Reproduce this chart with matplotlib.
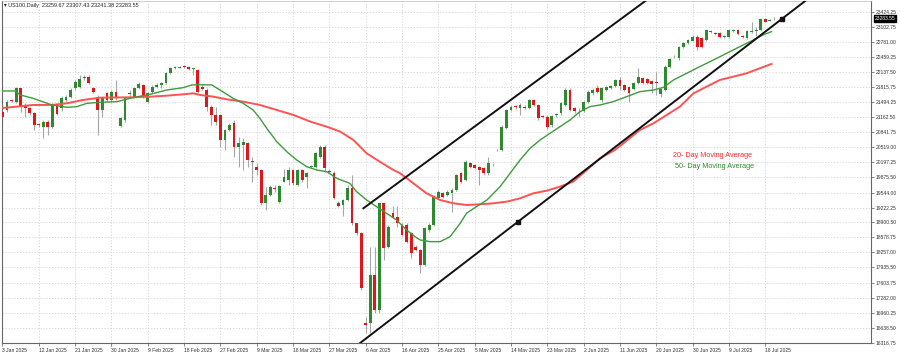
import numpy as np
import matplotlib.pyplot as plt

# ---------------------------------
# Daily candles
# ---------------------------------
opens = [
    21282, 21318, 21540, 21500, 21784, 21420, 21354, 21246, 21010, 20960,
    21068, 20960, 21426, 21354, 21533, 21605, 21784, 21820, 22000, 22034,
    21800, 21605, 21318, 21676, 21533, 21712, 20980, 21103, 21680, 21605,
    21784, 21855, 21497, 21712, 21820, 21855, 21891, 22106, 22220, 22230,
    22250, 22249, 22200, 22177, 21820, 21748, 21390, 21211, 21211, 20674,
    20888, 21032, 20530, 20566, 20602, 20210, 20100, 20030, 19313, 19492,
    19640, 19350, 19780, 19814, 20030, 19706, 20030, 19885, 20100, 20100,
    20316, 20530, 20000, 19957, 19327, 19277, 19385, 19635, 18883, 18668,
    16740, 16734, 17773, 17020, 19313, 18380, 19098, 19026, 18848, 18847,
    18668, 18382, 18310, 17987, 18740, 18847, 19420, 19527, 19492, 19527,
    19600, 19957, 19814, 20172, 20136, 20100, 20065, 19957, 20130, 20450,
    20459, 20924, 21318, 21404, 21354, 21376, 21354, 21533, 21426, 21175,
    21175, 20990, 21210, 21247, 21426, 21748, 21354, 21330, 21304, 21497,
    21676, 21784, 21533, 21748, 21784, 21834, 21963, 21856, 21805, 21762,
    21906, 21999, 21977, 21949, 21906, 21662, 21748, 22250, 22450, 22429,
    22679, 22751, 22808, 22894, 22858, 22822, 23002, 22966, 22966, 22894,
    22894, 23023, 23037, 22894, 22858, 23002, 23023, 23037, 23267, 23238,
    23267]
highs = [
    21318, 21533, 21560, 21820, 21800, 21460, 21390, 21282, 21040, 21100,
    21100, 21460, 21460, 21620, 21640, 21780, 21960, 22070, 22060, 22060,
    21820, 21640, 21600, 21700, 21740, 21963, 21160, 21600, 21740, 21820,
    21927, 21880, 21700, 21850, 21890, 21927, 22130, 22250, 22260, 22270,
    22280, 22270, 22230, 22200, 21850, 21780, 21420, 21390, 21240, 20920,
    21030, 21103, 20745, 20710, 20640, 20315, 20170, 20060, 19670, 19700,
    19700, 19710, 20060, 20100, 20060, 20060, 20060, 19990, 20130, 20420,
    20560, 20560, 20060, 20000, 19360, 19410, 19706, 19920, 18900, 18700,
    16880, 18380, 18380, 19330, 19330, 18840, 19255, 19255, 18880, 18880,
    18700, 18420, 18340, 18800, 18900, 19490, 19600, 19560, 19600, 19640,
    19950, 19990, 20240, 20200, 20160, 20120, 20090, 20316, 20170, 20480,
    20990, 21340, 21420, 21430, 21460, 21420, 21560, 21560, 21450, 21200,
    21200, 21220, 21250, 21490, 21780, 21780, 21380, 21360, 21520, 21740,
    21780, 21850, 21820, 21830, 21860, 21990, 22035, 21880, 21830, 21930,
    22214, 22030, 22000, 21970, 22142, 21790, 22280, 22430, 22490, 22700,
    22780, 22850, 22920, 22920, 22880, 23060, 23040, 22990, 22990, 22920,
    23060, 23050, 23060, 22920, 23040, 23216, 23109, 23290, 23290, 23270,
    23307]
lows = [
    20996, 21282, 21500, 21460, 21282, 21175, 21211, 20888, 20960, 20709,
    20781, 20930, 21200, 21300, 21500, 21570, 21750, 21800, 21960, 21870,
    21690, 20781, 21175, 21500, 21500, 21540, 20960, 21070, 21620, 21580,
    21760, 21580, 21460, 21690, 21800, 21800, 21870, 22090, 22200, 22210,
    22220, 22180, 22070, 21690, 21740, 21300, 20990, 20996, 20530, 20459,
    20860, 20316, 20100, 20030, 20100, 19778, 19920, 19280, 19170, 19460,
    19560, 19320, 19760, 19700, 19700, 19680, 19780, 19640, 20080, 20080,
    20290, 19990, 19960, 19400, 19230, 19030, 19360, 18850, 18640, 17450,
    16520, 16520, 16950, 16950, 18090, 18360, 19000, 18810, 18600, 18450,
    18130, 18280, 17808, 17960, 18700, 18820, 19400, 19420, 19460, 19134,
    19580, 19750, 19790, 20080, 20040, 19707, 19920, 19930, 20110, 20430,
    20430, 20900, 21290, 21330, 21200, 21340, 21330, 21400, 21100, 21140,
    20900, 20960, 21170, 21200, 21400, 21290, 21250, 21170, 21280, 21470,
    21640, 21690, 21500, 21720, 21760, 21810, 21748, 21720, 21497, 21740,
    21880, 21880, 21880, 21676, 21641, 21600, 21720, 22230, 22430, 22400,
    22650, 22730, 22790, 22608, 22650, 22800, 22980, 22930, 22860, 22870,
    22870, 23000, 22930, 22860, 22840, 22980, 22900, 23020, 23200, 23220,
    23241]
closes = [
    21175, 21497, 21520, 21784, 21390, 21354, 21246, 20996, 21000, 21068,
    20960, 21426, 21240, 21583, 21605, 21748, 21927, 21984, 22020, 21891,
    21712, 21318, 21569, 21533, 21712, 21569, 21139, 21569, 21660, 21784,
    21870, 21605, 21676, 21820, 21855, 21891, 22106, 22214, 22230, 22240,
    22245, 22200, 22210, 21712, 21760, 21390, 21210, 21068, 20674, 20888,
    20996, 20530, 20602, 20638, 20244, 20200, 20030, 19313, 19492, 19670,
    19610, 19685, 19885, 20030, 19742, 20030, 19814, 19957, 20110, 20387,
    20530, 20065, 19990, 19420, 19255, 19385, 19635, 18883, 18668, 17486,
    16700, 17773, 17020, 19313, 18345, 18811, 19026, 18883, 18632, 18489,
    18238, 18310, 17987, 18775, 18847, 19456, 19563, 19456, 19563, 19600,
    19922, 19778, 20208, 20100, 20065, 20030, 19957, 20172, 20145, 20460,
    20960, 21318, 21376, 21376, 21426, 21370, 21533, 21426, 21139, 21170,
    20960, 21190, 21220, 21462, 21748, 21318, 21304, 21335, 21497, 21712,
    21748, 21712, 21784, 21805, 21834, 21963, 21834, 21748, 21676, 21906,
    22020, 21906, 21906, 21877, 21900, 21762, 22250, 22407, 22464, 22679,
    22751, 22822, 22894, 22679, 22679, 23037, 23010, 22960, 22880, 22900,
    23037, 23030, 22952, 22890, 23023, 23010, 23030, 23267, 23216, 23245,
    23283]

# moving averages, sampled along the drawn lines (bar index, price)
ma_fast_x = [-0.5, 2.8, 3.9, 6.7, 10.9, 14.2, 16.4, 18.6, 21.5, 25.2, 28.7, 32.5,
             36.2, 39.8, 41.7, 43.5, 46.1, 47.9, 50.8, 53.0, 55.2, 56.7, 58.2,
             60.4, 62.6, 64.8, 67.0, 69.2, 71.4, 73.6, 76.5, 78.0, 80.2, 82.4,
             84.6, 86.8, 89.0, 90.9, 92.0, 94.2, 96.4, 98.6, 100.8, 102.2, 104.4,
             106.7, 109.6, 111.8, 114.0, 116.2, 118.4, 120.6, 122.8, 125.0, 127.2,
             129.4, 131.6, 134.5, 137.5, 140.4, 143.4, 145.6, 147.8, 150.7, 153.6,
             156.6, 159.5, 162.4, 165.4, 167.5, 169.4]
ma_fast = [21727, 21727, 21640, 21570, 21426, 21376, 21390, 21462, 21483, 21497,
           21583, 21655, 21748, 21798, 21856, 21860, 21856, 21748, 21569, 21461,
           21318, 21139, 20924, 20638, 20423, 20244, 20100, 20029, 19993, 19850,
           19742, 19563, 19384, 19241, 19098, 18954, 18740, 18594, 18525, 18489,
           18489, 18596, 18883, 19098, 19241, 19384, 19671, 19957, 20244, 20494,
           20673, 20817, 20960, 21103, 21282, 21390, 21426, 21497, 21605, 21712,
           21748, 21805, 21963, 22106, 22250, 22393, 22536, 22679, 22822, 22930,
           23002]
ma_slow_x = [-0.5, 6.7, 10.9, 14.2, 17.7, 21.5, 28.7, 32.5, 36.2, 39.8, 42.0,
             43.5, 46.4, 49.4, 53.0, 56.7, 60.4, 64.1, 67.8, 71.4, 74.4, 77.3,
             80.2, 83.1, 86.1, 87.6, 90.5, 93.4, 96.4, 99.3, 102.2, 105.2, 108.1,
             111.1, 114.0, 116.9, 119.9, 122.8, 125.7, 128.7, 131.6, 134.9, 140.4,
             143.4, 146.3, 149.2, 152.2, 155.1, 158.0, 161.0, 163.9, 166.8, 169.4]
ma_slow = [21355, 21426, 21426, 21462, 21533, 21583, 21591, 21604, 21626, 21655,
           21677, 21641, 21605, 21547, 21497, 21426, 21318, 21211, 21068, 20960,
           20852, 20673, 20387, 20208, 20029, 19957, 19742, 19527, 19384, 19313,
           19277, 19291, 19313, 19349, 19420, 19527, 19585, 19671, 19778, 20029,
           20280, 20459, 20888, 21032, 21211, 21390, 21676, 21820, 21963, 22035,
           22106, 22214, 22307]

# channel lines (bar index, price)
upper_x = [79.5, 146.0]
upper_y = [19206, 23976]
lower_x = [78.7, 180.0]
lower_y = [16305, 23900]
anchor_x = [113.6, 171.6]
anchor_y = [18921, 23270]

date_labels = ['3 Jan 2025', '12 Jan 2025', '21 Jan 2025', '30 Jan 2025', '9 Feb 2025',
               '18 Feb 2025', '27 Feb 2025', '9 Mar 2025', '18 Mar 2025', '27 Mar 2025',
               '6 Apr 2025', '16 Apr 2025', '25 Apr 2025', '5 May 2025', '14 May 2025',
               '23 May 2025', '2 Jun 2025', '11 Jun 2025', '20 Jun 2025', '30 Jun 2025',
               '9 Jul 2025', '18 Jul 2025']
price_ticks = [16316.75, 16638.50, 16960.25, 17282.00, 17603.75, 17935.50, 18257.00,
               18578.75, 18900.50, 19222.25, 19544.00, 19875.50, 20197.25, 20519.00,
               20841.75, 21162.50, 21494.25, 21815.75, 22137.50, 22459.25, 22781.00,
               23102.75, 23424.25]
last_price = 23283.55

# ---------------------------------
# Plot
# ---------------------------------
plt.rcParams['font.family'] = ['Liberation Sans', 'DejaVu Sans']

fig = plt.figure(figsize=(9, 3.52), dpi=100)
ax = fig.add_axes([2 / 900, 9 / 352, 869 / 900, 342 / 352])

o = np.array(opens)
h = np.array(highs)
l = np.array(lows)
c = np.array(closes)
idx = np.arange(len(c))
up = c >= o
bottom = np.minimum(o, c)
height = np.maximum(np.abs(c - o), 14)

ax.vlines(idx, l, h, color='#a6a6a6', lw=0.8, zorder=2)
ax.bar(idx[up], height[up], bottom=bottom[up], width=0.62, color='#2f8a2f', zorder=3)
ax.bar(idx[~up], height[~up], bottom=bottom[~up], width=0.62, color='#e0161b', zorder=3)

ax.plot(ma_slow_x, ma_slow, color='#ff5252', lw=1.4, zorder=4)
ax.plot(ma_fast_x, ma_fast, color='#3f9a3f', lw=1.0, zorder=4)

ax.plot(upper_x, upper_y, color='#111111', lw=1.4, zorder=5)
ax.plot(lower_x, lower_y, color='#111111', lw=1.4, zorder=5)
ax.plot(anchor_x, anchor_y, 's', color='#111111', ms=2.2, zorder=6)

ax.text(0.7727, 0.548, '20- Day Moving Average', transform=ax.transAxes,
        color='#ff2a2a', fontsize=5.2, va='center')
ax.text(0.7746, 0.515, '50- Day Moving Average', transform=ax.transAxes,
        color='#2f8a2f', fontsize=5.2, va='center')

ax.text(0.002, 0.988, '\u25be US100,Daily  23259.67 23307.43 23241.38 23283.55',
        transform=ax.transAxes, fontsize=4, va='center', color='#222222')

ax.set_xlim(-0.11, 191.3)
ax.set_ylim(16311, 23660)

ax.set_xticks(np.arange(0, 8 * len(date_labels), 8))
ax.set_xticklabels(date_labels, fontsize=3.6, color='#333333', ha='left')
ax.yaxis.tick_right()
ax.set_yticks(price_ticks)
ax.set_yticklabels(['%.2f' % v for v in price_ticks], fontsize=3.6, color='#333333')
ax.tick_params(axis='both', length=2, width=0.5, pad=1.5, color='#555555')

ax.grid(color='#d4d4d4', ls=(0, (1.5, 2)), lw=0.6)
ax.set_axisbelow(True)
for side in ['left', 'bottom', 'right']:
    ax.spines[side].set_color('#666666')
    ax.spines[side].set_linewidth(0.8)
ax.spines['top'].set_color('#bbbbbb')
ax.spines['top'].set_linewidth(0.5)

ax.text(1.004, (last_price - 16311) / (23660 - 16311), '%.2f' % last_price,
        transform=ax.transAxes, fontsize=3.6, color='white', va='center', ha='left',
        bbox=dict(boxstyle='square,pad=0.15', fc='black', ec='black'))

plt.savefig('out.png', dpi=100)
